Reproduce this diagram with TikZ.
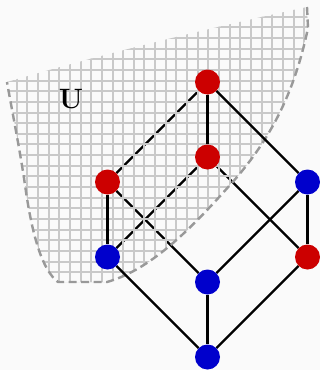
\documentclass[tikz,border=0pt]{standalone}
\pgfdeclarelayer{bg}
\pgfdeclarelayer{low}
\pgfdeclarelayer{grd}
\pgfdeclarelayer{high}
\pgfsetlayers{bg,low,grd,high,main}
\begin{document}
\begin{tikzpicture}[x=1pt,y=-1pt,
  vtx/.style={circle,inner sep=0pt,minimum size=25pt},
  red/.style={vtx,fill={rgb,255:red,204;green,0;blue,0}},
  blue/.style={vtx,fill={rgb,255:red,0;green,0;blue,204}},
  edge/.style={line width=2.4pt,black},
  gridline/.style={line width=2pt,black!21},
  bound/.style={line width=2.4pt,black!40,dash pattern=on 8pt off 4.5pt}]
\useasboundingbox (0,0) rectangle (320,370);
% nodes
\node[red] (top) at (207.5,82) {};
\node[red] (mid) at (207.5,157) {};
\node[red] (left) at (107.5,182) {};
\node[blue] (right) at (307.5,182) {};
\node[blue] (leftlow) at (107.5,257) {};
\node[red] (rightlow) at (307.5,257) {};
\node[blue] (centerlow) at (207.5,282) {};
\node[blue] (bottom) at (207.5,357) {};
\begin{pgfonlayer}{bg}
\fill[black!2] (0,0) rectangle (320,370);
\end{pgfonlayer}
% edges under the grid
\begin{pgfonlayer}{low}
\draw[edge] (top) -- (left);
\draw[edge] (mid) -- (leftlow);
\draw[edge] (left) -- (centerlow);
\draw[edge] (mid) -- (rightlow);
\end{pgfonlayer}
% grid in U
\begin{pgfonlayer}{grd}
\begin{scope}
\clip (307,7) -- (308,28) .. controls (297,80) and (278,132) .. (230,185)
  .. controls (190,230) and (150,270) .. (107,282) -- (58,282)
  .. controls (42,270) and (32,235) .. (25,185)
  .. controls (20,150) and (10,100) .. (7,82)
  .. controls (100,55) and (200,30) .. (307,7) -- cycle;
\foreach \i in {0,...,30} {
  \draw[gridline] ({6+10.65*\i},0) -- ({6+10.65*\i},370);
  \draw[gridline] (0,{6+10.65*\i}) -- (320,{6+10.65*\i});
}
\end{scope}
\draw[bound] (307,7) -- (308,28) .. controls (297,80) and (278,132) .. (230,185)
  .. controls (190,230) and (150,270) .. (107,282) -- (58,282)
  .. controls (42,270) and (32,235) .. (25,185)
  .. controls (20,150) and (10,100) .. (7,82);
\end{pgfonlayer}
\node[anchor=base,inner sep=0pt,font=\fontsize{28}{28}\selectfont\bfseries] (ulabel) at (71,108) {U};
% edges over the grid
\begin{pgfonlayer}{high}
\draw[edge] (top) -- (mid);
\draw[edge] (top) -- (right);
\draw[edge] (left) -- (leftlow);
\draw[edge] (leftlow) -- (bottom);
\draw[edge] (centerlow) -- (bottom);
\draw[edge] (rightlow) -- (bottom);
\draw[edge] (centerlow) -- (right);
\draw[edge] (rightlow) -- (right);
\end{pgfonlayer}
\end{tikzpicture}
\end{document}
